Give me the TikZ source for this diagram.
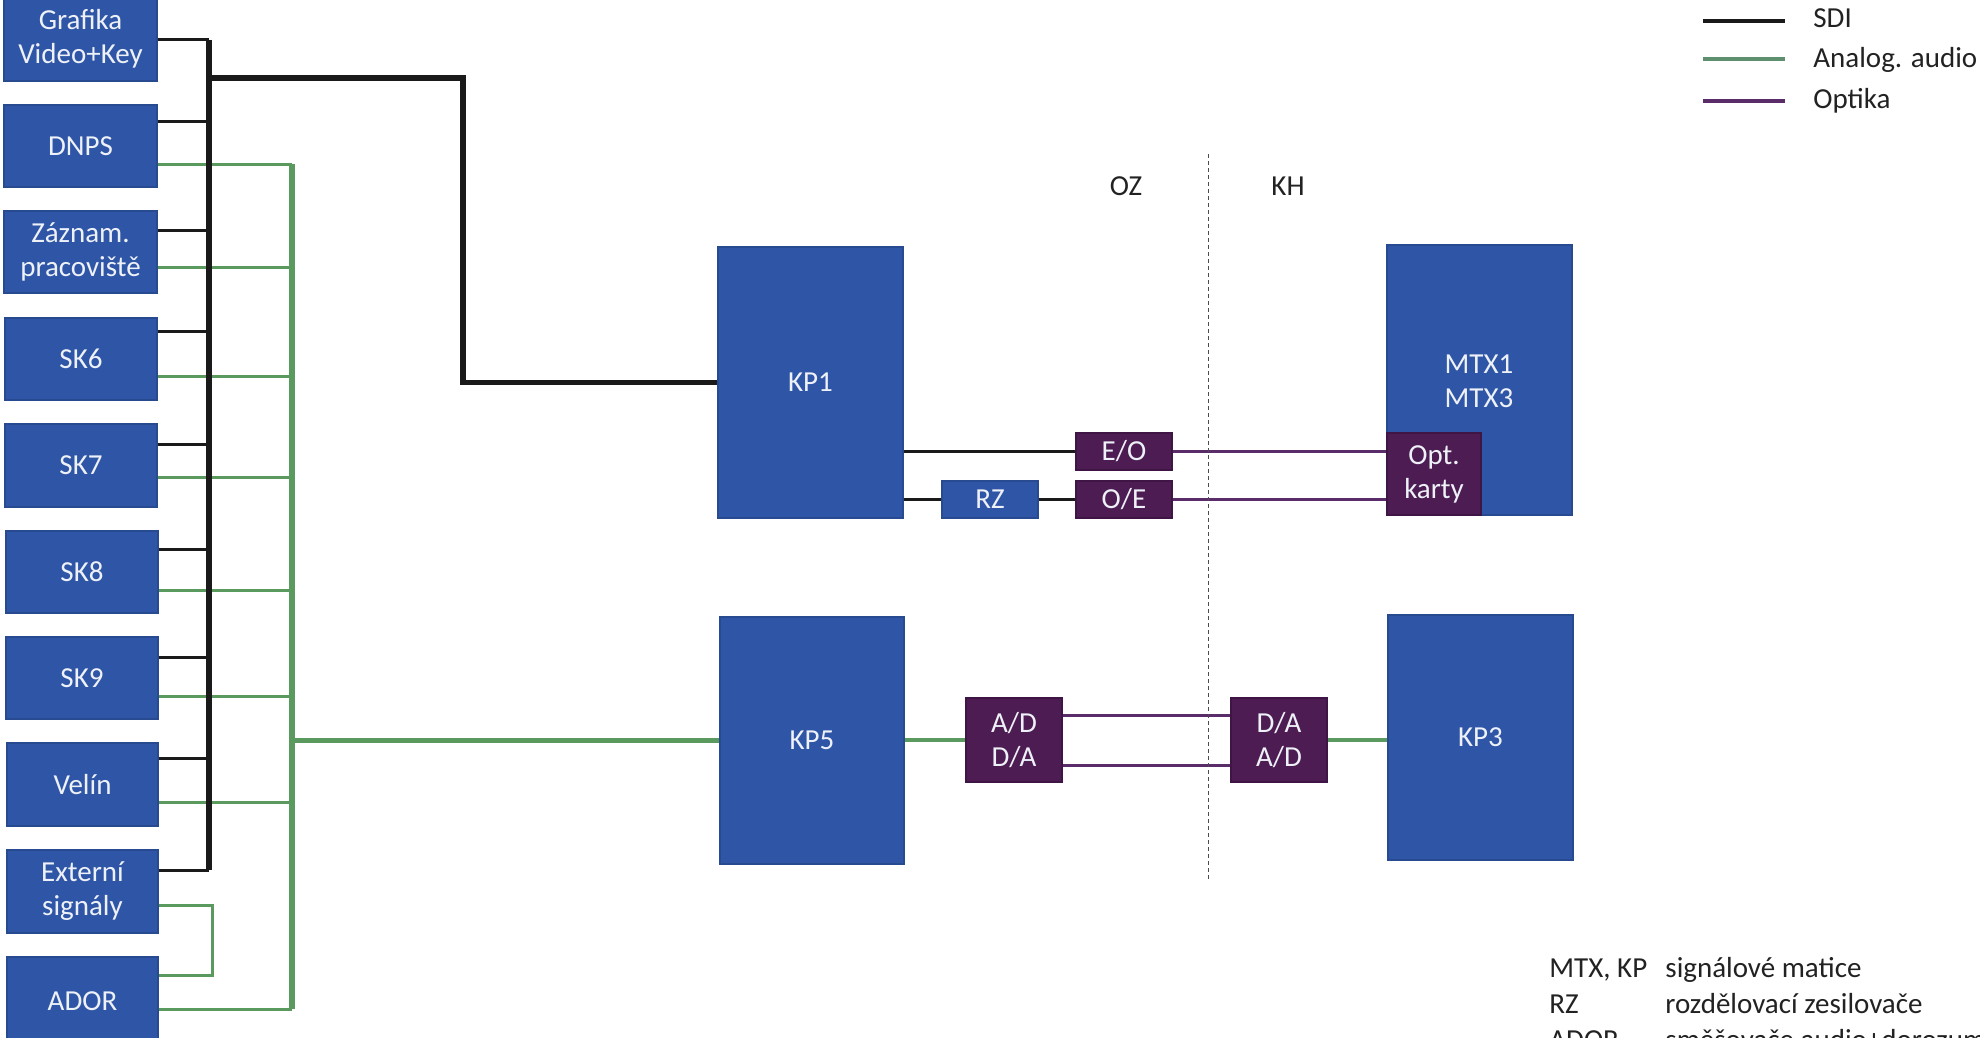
\documentclass[tikz,border=0pt]{standalone}
\usepackage{fontspec}
\setmainfont{Carlito}
\usetikzlibrary{calc}
\definecolor{boxblue}{HTML}{2F56A6}
\definecolor{boxedge}{HTML}{284A90}
\definecolor{boxpurple}{HTML}{4C1C52}
\definecolor{purpedge}{HTML}{3E1544}
\definecolor{audiogreen}{HTML}{5A9A5E}
\definecolor{legendgreen}{HTML}{5E8F6E}
\definecolor{optpurple}{HTML}{5B2C6A}
\definecolor{txtlight}{HTML}{EEF1F8}
\definecolor{txtdark}{HTML}{222222}
\definecolor{sdiblack}{HTML}{1A1A1A}
\newcommand\mybox[7]{\node[#1, minimum width={(#5-#3)*0.5pt}, minimum height={(#6-#4)*0.5pt}] (#2) at ({(#3+#5)/2},{(#4+#6)/2}) {#7};}
\begin{document}
\begin{tikzpicture}[x=0.5pt,y=-0.5pt,
  font=\fontsize{14.5}{17}\selectfont,
  bluebox/.style={draw=boxedge, line width=0.6pt, fill=boxblue, text=txtlight, align=center, inner sep=0pt},
  purpbox/.style={draw=purpedge, line width=0.6pt, fill=boxpurple, text=txtlight, align=center, inner sep=0pt},
  sdi/.style={draw=sdiblack, line width=1.5pt},
  sdibus/.style={draw=sdiblack, line width=2.8pt},
  aud/.style={draw=audiogreen, line width=1.5pt},
  audbus/.style={draw=audiogreen, line width=2.8pt},
  optl/.style={draw=optpurple, line width=1.5pt},
  divider/.style={draw=black!70, line width=0.5pt, dash pattern=on 2pt off 1.5pt},
  lbl/.style={text=txtdark, inner sep=0pt},
]
\useasboundingbox[fill=white] (0,0) rectangle (1980,1038);

% ---------- coordinates of buses ----------
\coordinate (sb) at (209,40);
\coordinate (sbb) at (209,870);
\coordinate (gb) at (292,164);
\coordinate (gbb) at (292,1009);
\coordinate (sdiTurn) at (463,78);
\coordinate (loop) at (212,905);

% ---------- left boxes ----------
\mybox{bluebox}{graf}{4}{-3}{157}{81}{Grafika\\Video+Key}
\mybox{bluebox}{dnps}{4}{105}{157}{187}{DNPS}
\mybox{bluebox}{zazn}{4}{211}{157}{293}{Záznam.\\pracoviště}
\mybox{bluebox}{sk6}{5}{318}{157}{400}{SK6}
\mybox{bluebox}{sk7}{5}{424}{157}{507}{SK7}
\mybox{bluebox}{sk8}{6}{531}{158}{613}{SK8}
\mybox{bluebox}{sk9}{6}{637}{158}{719}{SK9}
\mybox{bluebox}{velin}{7}{743}{158}{826}{Velín}
\mybox{bluebox}{ext}{7}{850}{158}{933}{Externí\\signály}
\mybox{bluebox}{ador}{7}{957}{158}{1045}{ADOR}

% ---------- right boxes ----------
\mybox{bluebox}{kp1}{718}{247}{903}{518}{KP1}
\mybox{bluebox}{kp5}{720}{617}{904}{864}{KP5}
\mybox{bluebox}{mtx}{1387}{245}{1572}{515}{}
\node[text=txtlight, align=center, inner sep=0pt] (mtxt) at (1479,381) {MTX1\\MTX3};
\mybox{bluebox}{kp3}{1388}{615}{1573}{860}{KP3}
\mybox{bluebox}{rz}{942}{481}{1038}{518}{RZ}
\mybox{purpbox}{eo}{1076}{433}{1172}{470}{E/O}
\mybox{purpbox}{oe}{1076}{481}{1172}{518}{O/E}
\mybox{purpbox}{opt}{1387}{433}{1481}{515}{Opt.\\karty}
\mybox{purpbox}{ad}{966}{698}{1062}{782}{A/D\\D/A}
\mybox{purpbox}{da}{1231}{698}{1327}{782}{D/A\\A/D}

% ---------- green (analog audio) wiring ----------
\foreach \b/\y in {dnps/164, zazn/267, sk6/376, sk7/477, sk8/590, sk9/696, velin/802}
  \draw[aud] (\b.east |- 0,\y) -- (gb |- 0,\y);
\draw[aud] (ador.east |- gbb) -- (gbb);
\draw[audbus] (gb) -- (gbb);
\draw[audbus] (gb |- kp5.west) -- (kp5.west);
\draw[aud] (ext.east |- loop) -- (loop) -- (loop |- 0,975) -- (ador.east |- 0,975);

% ---------- black (SDI) wiring ----------
\foreach \b/\y in {graf/40, dnps/122, zazn/230, sk6/331, sk7/444, sk8/549, sk9/657, velin/758, ext/870}
  \draw[sdi] (\b.east |- 0,\y) -- (sb |- 0,\y);
\draw[sdibus] (sb) -- (sbb);
\draw[sdibus] (sb |- sdiTurn) -- (sdiTurn) |- (kp1.west);

% ---------- right wiring ----------
\draw[sdi] (kp1.east |- eo.west) -- (eo.west);
\draw[sdi] (kp1.east |- rz.west) -- (rz.west);
\draw[sdi] (rz.east) -- (oe.west);
\draw[optl] (eo.east) -- (eo.east -| opt.west);
\draw[optl] (oe.east) -- (oe.east -| opt.west);
\draw[aud, line width=2pt] (kp5.east |- ad.west) -- (ad.west);
\draw[optl] (ad.east |- 0,715) -- (da.west |- 0,715);
\draw[optl] (ad.east |- 0,765) -- (da.west |- 0,765);
\draw[aud, line width=2pt] (da.east) -- (da.east -| kp3.west);

% ---------- divider ----------
\coordinate (dtop) at (1208,154);
\coordinate (dbot) at (1208,881);
\draw[divider] (dtop) -- (dbot);
\node[lbl] (oz) at (1126,186) {OZ};
\node[lbl] (kh) at (1288,186) {KH};

% ---------- legend ----------
\draw[sdiblack, line width=1.6pt] (1703,21) -- (1785,21);
\draw[legendgreen, line width=1.6pt] (1703,59) -- (1785,59);
\draw[optpurple, line width=1.6pt] (1703,101) -- (1785,101);
\node[lbl, anchor=base west] (lg1) at (1813,28) {SDI};
\node[lbl, anchor=base west] (lg2) at (1813,68) {Analog. audio};
\node[lbl, anchor=base west] (lg3) at (1813,109) {Optika};

\node[lbl, anchor=base west] (ab1) at (1549,977) {MTX, KP};
\node[lbl, anchor=base west] (ab2) at (1549,1013) {RZ};
\node[lbl, anchor=base west] (ab3) at (1549,1049) {ADOR};
\node[lbl, anchor=base west] (de1) at (1665,977) {signálové matice};
\node[lbl, anchor=base west] (de2) at (1665,1013) {rozdělovací zesilovače};
\node[lbl, anchor=base west] (de3) at (1665,1049) {směšovače audio+dorozumívání};
\end{tikzpicture}
\end{document}
